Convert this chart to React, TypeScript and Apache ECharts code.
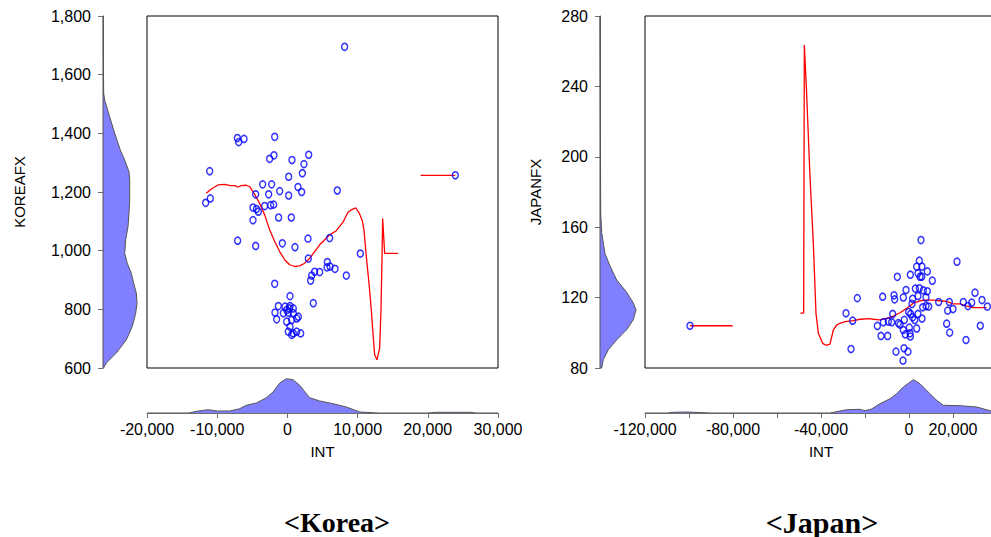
import React, { useEffect, useRef } from "react";
import * as echarts from "echarts";

// ---------- KOREA ----------
const koreaInt = [
  8150, -7130, -6940, -6180, -1810, -2530, -1910, 650, 3030, 2360, -11070, 180, 2130,
  -3520, -2240, 1510, 2030, -4520, -2670, -1100, 180, 7110, -10980, -11640,
  -4900, -4140, -4400, -3240, -2390, -1960, -4900, -1250, 560, -7090, -4520,
  -720, 1080, 2930, 6020, 2980, 10390, 5690, 6070, 5640, 6780, 3880, 4600, 3460, 3310,
  8390, -1810, 370, 3690,
  -1290, -340, 370, 840, 270, -100, -1770, -580, 130, 840, -1530, -100, 610, 1320, 1560,
  370, 130, 840, 1320, 1890, 610, 23920,
];
const koreaFx = [
  1695, 1384, 1370, 1381, 1388, 1313, 1325, 1309, 1327, 1295, 1271, 1252, 1264,
  1226, 1226, 1217, 1200, 1192, 1192, 1203, 1188, 1205, 1178, 1163,
  1147, 1133, 1142, 1152, 1155, 1157, 1104, 1113, 1113, 1034, 1016,
  1025, 1012, 1041, 1043, 973, 990, 961, 946, 943, 938, 928, 927, 915, 898,
  915, 887, 845, 821,
  811, 809, 811, 803, 803, 798, 789, 787, 789, 787, 766, 758, 764, 769, 775,
  741, 724, 718, 724, 718, 713, 1257,
];
const koreaFitInt = [
  -11549, -10836, -9887, -8937, -8130, -7513, -7038, -6563, -5851, -5376, -4664, -3952,
  -3240, -2527, -1815, -1103, -391, 321, 1034, 1746, 2458, 3170, 3882, 4595, 5307, 6019,
  6969, 7918, 8630, 9105, 9722, 10197, 10672, 10910, 11242, 11622, 11954, 12192, 12429,
  12761, 13141, 13331, 13473, 13568, 13853, 15752,
];
const koreaFitFx = [
  1196, 1210, 1224, 1226, 1222, 1222, 1217, 1222, 1223, 1218, 1192, 1161,
  1122, 1071, 1031, 997, 969, 952, 946, 948, 957, 974, 997, 1020, 1037, 1054,
  1068, 1097, 1131, 1139, 1146, 1130, 1102, 1071, 980, 889, 798, 719, 645,
  628, 668, 798, 969, 1110, 991, 991,
];
const koreaTailInt = [18980, 23920];
const koreaTailFx = [1257, 1257];

const koreaFxDensY = [
  1800, 1700, 1600, 1536, 1513, 1456, 1400, 1343, 1309, 1269, 1241, 1173, 1127, 1082,
  1037, 991, 957, 923, 889, 856, 821, 787, 742, 696, 651, 617, 600,
];
const koreaFxDens = [
  0.3, 0.3, 0.5, 0.7, 1.7, 6.7, 11.7, 17.3, 21.7, 26, 26.7, 26.7, 26, 25,
  22.7, 21.7, 24.3, 28.3, 30.7, 33.3, 34, 32.7, 29.3, 23.3, 13.3, 3.3, 0.5,
];
const koreaIntDensX = [
  -20000, -14000, -12970, -11300, -10000, -8220, -6800, -5850, -4420, -3000, -2050, -1100,
  -150, 800, 1750, 2700, 3170, 4600, 6500, 8400, 10300, 12200, 13000, 20000, 21200, 26000,
  27000, 30000,
];
const koreaIntDens = [
  0, 0, 1.7, 3.3, 2, 2, 4.3, 7.7, 10, 15.3, 21, 30,
  34.3, 33.3, 27.7, 19.3, 15.3, 12, 9.3, 6, 1, 0.3, 0, 0, 0.7, 0.7,
  0, 0,
];

// ---------- JAPAN ----------
const japanInt = [
  -99550, 5450, 4700, 21820, 3490, 5910, 8330, 610, 4090, 5760, 5000, -5300, 10610,
  -1360, 2880, 4700, 6520, 8330,
  -11970, -6820, -6520, -2580, -23490, 1670, 4090, 7730,
  1360, 7730, 8940, 6210, 13490, 18330, 24700, 28490, 30000, 33180, 26820, 35610, 17580, 20000,
  -28640, -7420, -150, 760, 4090, 5910, 2580, 1670,
  -25610, -14390, -11670, -9390, -7880, -4850, -4090, -2120, 150, 3490, 17120, 32420,
  -2580, -1670, 460, 610, -12730, -9700, 18490, 25910,
  -26360, -5910, -2270, -460, -2730,
];
const japanFx = [
  104.0, 152.7, 141.0, 140.4, 137.6, 137.6, 134.9, 133.0, 133.8, 131.9, 131.9, 131.8, 129.6,
  124.3, 125.1, 125.3, 124.1, 123.6,
  120.5, 121.3, 119.0, 120.1, 119.7, 119.3, 120.9, 120.1,
  116.4, 115.2, 114.9, 114.5, 117.5, 117.5, 117.5, 117.1, 122.8, 118.6, 115.2, 114.9, 112.6, 113.5,
  111.1, 110.7, 111.8, 110.7, 110.7, 108.1, 107.3, 108.8,
  106.9, 103.9, 106.0, 106.4, 106.0, 105.5, 104.7, 107.3, 102.9, 102.5, 105.2, 104.0,
  101.6, 99.1, 99.7, 97.9, 98.2, 98.2, 100.1, 95.9,
  90.8, 89.3, 91.2, 89.3, 84.2,
];
const japanFitInt = [
  -49394, -47879, -47576, -46667, -45000, -43485, -42273, -41212, -39242, -37727, -35909,
  -34394, -32879, -31364, -29091, -25303, -22273, -17727, -16212, -13182, -10152, -7121,
  -4091, -1061, 1970, 5000, 8030, 11061, 14091, 17121, 20152, 23182, 26212, 29242, 35303,
];
const japanFitFx = [
  111.2, 111.2, 263.5, 240, 188.7, 150.8, 111.0, 99.7, 94.0, 92.9, 93.6,
  101.6, 104.4, 105.4, 106.3, 106.9, 107.7, 108.0, 107.7, 107.3, 108.2, 109.5,
  111.4, 113.9, 116.8, 118.2, 118.6, 118.6, 118.2, 117.9, 116.4, 116.4, 115.2, 114.3, 114.3,
];
const japanTailInt = [-99550, -80150];
const japanTailFx = [104, 104];

const japanFxDensY = [280, 168, 157, 145, 138, 130, 123, 117, 113, 107.4, 101.8, 96, 90.4, 84.7, 80];
const japanFxDens = [0, 0.7, 1.7, 5, 10, 16.7, 26.7, 33.3, 36, 33.3, 26.7, 16.7, 8.3, 3.3, 1.7];
const japanIntDensX = [
  -120000, -110000, -107100, -101000, -93500, -90000, -36000, -31400, -28300, -22300,
  -20000, -17000, -13200, -8600, -5600, -2600, 2000, 5000, 9500, 12600, 15600, 23200,
  30800, 37300, 40000,
];
const japanIntDens = [
  0, 0, 0.7, 1, 0.3, 0, 0, 2, 3.3, 3.7,
  2.3, 4, 9.3, 14.3, 19.3, 26, 33.3, 29.3, 19.3, 12.7, 7.7, 7.3,
  6, 2, 0.5,
];

const japanXLabels = [-120000, -80000, -40000, 0, 20000];

const FONT = "Arial, 'Liberation Sans', sans-serif";
const AXIS_GREY = "#6e6e6e";
const DENS_FILL = "#7f7fff";
const DENS_LINE = "#555555";

const fmt = (v: number) => v.toLocaleString("en-US");
const zip = (a: number[], b: number[]) => a.map((v, i) => [v, b[i]]);

function horizDensity(gridIdx: number, ys: number[], ws: number[]) {
  return {
    type: "custom",
    coordinateSystem: "cartesian2d",
    xAxisIndex: gridIdx,
    yAxisIndex: gridIdx,
    data: [[0, ys[0]]],
    silent: true,
    renderItem: (_p: any, api: any) => {
      const pts = [[0, ys[0]], ...zip(ws, ys), [0, ys[ys.length - 1]]].map((p) => api.coord(p));
      return {
        type: "polygon",
        shape: { points: pts },
        style: { fill: DENS_FILL, stroke: DENS_LINE, lineWidth: 1 },
      };
    },
  };
}

function vertDensity(gridIdx: number, xs: number[], hs: number[]) {
  return {
    type: "line",
    xAxisIndex: gridIdx,
    yAxisIndex: gridIdx,
    data: zip(xs, hs),
    showSymbol: false,
    silent: true,
    lineStyle: { color: DENS_LINE, width: 1 },
    areaStyle: { color: DENS_FILL, opacity: 1 },
  };
}

function scatter(gridIdx: number, xs: number[], ys: number[]) {
  return {
    type: "scatter",
    xAxisIndex: gridIdx,
    yAxisIndex: gridIdx,
    data: zip(xs, ys),
    symbol: "circle",
    symbolSize: [6, 7],
    itemStyle: { color: "rgba(0,0,0,0)", borderColor: "#0000ff", borderWidth: 1.5 },
    z: 3,
  };
}

function fitLine(gridIdx: number, xs: number[], ys: number[]) {
  return {
    type: "line",
    xAxisIndex: gridIdx,
    yAxisIndex: gridIdx,
    data: zip(xs, ys),
    showSymbol: false,
    lineStyle: { color: "#ff0000", width: 1.3 },
    z: 2,
  };
}

const labelStyle = { color: "#000", fontFamily: FONT, fontSize: 16 };
const nameStyle = { color: "#000", fontFamily: FONT, fontSize: 15 };

export default function App() {
  const ref = useRef<HTMLDivElement>(null);
  useEffect(() => {
    if (!ref.current) return;
    const chart = echarts.init(ref.current, null, { renderer: "svg" });
    const gridBase = { outerBoundsMode: "none", containLabel: false };
    const option: any = {
      animation: false,
      backgroundColor: "#fff",
      grid: [
        // 0 Korea scatter
        { ...gridBase, left: 147, top: 16, width: 351, height: 352, show: true, borderColor: "#000", borderWidth: 1 },
        // 1 Korea left density
        { ...gridBase, left: 103, top: 16, width: 40, height: 352 },
        // 2 Korea bottom density
        { ...gridBase, left: 147, top: 376, width: 351, height: 37 },
        // 3 Japan scatter
        { ...gridBase, left: 645, top: 16, width: 352, height: 352, show: true, borderColor: "#000", borderWidth: 1 },
        // 4 Japan left density
        { ...gridBase, left: 600, top: 16, width: 40, height: 352 },
        // 5 Japan bottom density
        { ...gridBase, left: 645, top: 376, width: 352, height: 37 },
      ],
      xAxis: [
        { gridIndex: 0, type: "value", min: -20000, max: 30000, show: false },
        { gridIndex: 1, type: "value", min: 0, max: 40, show: false },
        {
          gridIndex: 2, type: "value", min: -20000, max: 30000, interval: 10000, position: "bottom",
          axisLine: { show: true, lineStyle: { color: AXIS_GREY, width: 1 } },
          axisTick: { show: true, length: 5, lineStyle: { color: AXIS_GREY } },
          axisLabel: { ...labelStyle, margin: 8, formatter: fmt, showMinLabel: true, showMaxLabel: true },
          splitLine: { show: false },
          name: "INT", nameLocation: "middle", nameGap: 31, nameTextStyle: nameStyle,
        },
        { gridIndex: 3, type: "value", min: -120000, max: 40000, show: false },
        { gridIndex: 4, type: "value", min: 0, max: 40, show: false },
        {
          gridIndex: 5, type: "value", min: -120000, max: 40000, interval: 20000, position: "bottom",
          axisLine: { show: true, lineStyle: { color: AXIS_GREY, width: 1 } },
          axisTick: { show: true, length: 5, lineStyle: { color: AXIS_GREY } },
          axisLabel: {
            ...labelStyle, margin: 8, showMinLabel: true, showMaxLabel: false,
            formatter: (v: number) => (japanXLabels.includes(v) ? fmt(v) : ""),
          },
          splitLine: { show: false },
          name: "INT", nameLocation: "middle", nameGap: 31, nameTextStyle: nameStyle,
        },
      ],
      yAxis: [
        { gridIndex: 0, type: "value", min: 600, max: 1800, show: false },
        {
          gridIndex: 1, type: "value", min: 600, max: 1800, interval: 200, position: "left",
          axisLine: { show: true, lineStyle: { color: AXIS_GREY, width: 1 } },
          axisTick: { show: true, length: 5, lineStyle: { color: AXIS_GREY } },
          axisLabel: { ...labelStyle, margin: 12, formatter: fmt },
          splitLine: { show: false },
          name: "KOREAFX", nameLocation: "middle", nameGap: 76, nameTextStyle: nameStyle,
        },
        { gridIndex: 2, type: "value", min: 0, max: 37, show: false },
        { gridIndex: 3, type: "value", min: 80, max: 280, show: false },
        {
          gridIndex: 4, type: "value", min: 80, max: 280, interval: 40, position: "left",
          axisLine: { show: true, lineStyle: { color: AXIS_GREY, width: 1 } },
          axisTick: { show: true, length: 5, lineStyle: { color: AXIS_GREY } },
          axisLabel: { ...labelStyle, margin: 12, formatter: fmt },
          splitLine: { show: false },
          name: "JAPANFX", nameLocation: "middle", nameGap: 57, nameTextStyle: nameStyle,
        },
        { gridIndex: 5, type: "value", min: 0, max: 37, show: false },
      ],
      series: [
        scatter(0, koreaInt, koreaFx),
        fitLine(0, koreaFitInt, koreaFitFx),
        fitLine(0, koreaTailInt, koreaTailFx),
        horizDensity(1, koreaFxDensY, koreaFxDens),
        vertDensity(2, koreaIntDensX, koreaIntDens),
        scatter(3, japanInt, japanFx),
        fitLine(3, japanFitInt, japanFitFx),
        fitLine(3, japanTailInt, japanTailFx),
        horizDensity(4, japanFxDensY, japanFxDens),
        vertDensity(5, japanIntDensX, japanIntDens),
      ],
      graphic: [
        {
          type: "text", x: 337, y: 522,
          style: {
            text: "<Korea>", fill: "#000", textAlign: "center", textVerticalAlign: "middle",
            font: "bold 28px 'Liberation Serif', 'Times New Roman', serif",
          },
        },
        {
          type: "text", x: 822, y: 522,
          style: {
            text: "<Japan>", fill: "#000", textAlign: "center", textVerticalAlign: "middle",
            font: "bold 30px 'Liberation Serif', 'Times New Roman', serif",
          },
        },
      ],
    };
    chart.setOption(option);
    return () => chart.dispose();
  }, []);
  return (
    <div
      ref={ref}
      style={{ position: "absolute", left: 0, top: 0, width: 991, height: 537, overflow: "hidden" }}
    />
  );
}
